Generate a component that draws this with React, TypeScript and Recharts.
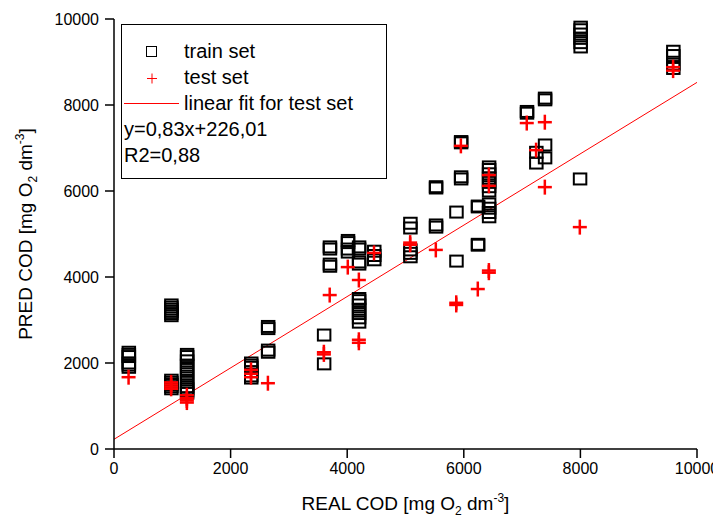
import React from 'react';
import { ScatterChart, Scatter, XAxis, YAxis, ReferenceLine } from 'recharts';

// ── Data ──────────────────────────────────────────────────────────────────────
const TICKS = [0, 2000, 4000, 6000, 8000, 10000];

// train set: real COD (x) and the predicted values stacked at that x
const TRAIN_REAL = [250, 980, 1250, 2350, 2640, 3600, 3700, 4010, 4200, 4460, 5080, 5520, 5870, 5950, 6240, 6430, 7080, 7240, 7390, 7990, 8000, 9590];
const TRAIN_PRED = [
  [1900, 1950, 2000, 2150, 2200, 2250],
  [3100, 3150, 3200, 3250, 3300, 3350, 1400, 1450, 1500, 1550, 1600],
  [1300, 1350, 1400, 1450, 1550, 1650, 1750, 1850, 1950, 2050, 2150, 2200],
  [1650, 1700, 1800, 1900, 1950, 2000],
  [2250, 2300, 2800, 2850],
  [1980, 2650],
  [4250, 4300, 4650, 4700],
  [4580, 4650, 4800, 4850],
  [4300, 4350, 4650, 4700, 2950, 3050, 3150, 3250, 3350, 3450, 3500],
  [4400, 4500, 4600],
  [4470, 4550, 4630, 5140, 5250],
  [5160, 5210, 6070, 6100],
  [4370, 5510],
  [6280, 6330, 7120, 7150],
  [4740, 4760, 5630, 5650],
  [5400, 5500, 5600, 5700, 6000, 6100, 6200, 6300, 6400, 6500, 6560],
  [7810, 7850],
  [6650, 6900],
  [6770, 7070, 8120, 8160],
  [6280],
  [9350, 9450, 9550, 9650, 9750, 9810],
  [8850, 8950, 9150, 9250],
];

// test set
const TEST_REAL = [250, 980, 1250, 2350, 2640, 3600, 3700, 4010, 4200, 4460, 5080, 5520, 5870, 5950, 6240, 6430, 7080, 7240, 7390, 7990, 9590];
const TEST_PRED = [
  [1670],
  [1400, 1450, 1500, 1550],
  [1080, 1130, 1180, 1250],
  [1670, 1750, 1840],
  [1530],
  [2200, 2250],
  [3580],
  [4230],
  [3930, 2470, 2540],
  [4560],
  [4750, 4800],
  [4630],
  [3350, 3400],
  [7050],
  [3720],
  [4100, 4150, 6120, 6370],
  [7580],
  [6950],
  [7600, 6090],
  [5160],
  [8800, 8880],
];

// linear fit for test set: y = 0,83x + 226,01
const FIT_SLOPE = 0.83;
const FIT_INTERCEPT = 226.01;
const FIT_X = [0, 10000];

// ── Constants ─────────────────────────────────────────────────────────────────
const FONT = '"Liberation Sans", Arial, sans-serif';
const RED = '#ff0000';
const BLACK = '#000000';

const trainData = TRAIN_REAL.flatMap((x, i) => TRAIN_PRED[i].map(y => ({ x, y })));
const testData = TEST_REAL.flatMap((x, i) => TEST_PRED[i].map(y => ({ x, y })));
const fitSegment = FIT_X.map(x => ({ x, y: FIT_SLOPE * x + FIT_INTERCEPT }));

// ── Marks ─────────────────────────────────────────────────────────────────────
function SquareMark({ cx, cy }: { cx?: number; cy?: number }) {
  if (cx === undefined || cy === undefined) return <g />;
  return (
    <rect x={cx - 6} y={cy - 5.5} width={12.5} height={11} fill="none" stroke={BLACK} strokeWidth={2} />
  );
}

function CrossMark({ cx, cy }: { cx?: number; cy?: number }) {
  if (cx === undefined || cy === undefined) return <g />;
  return (
    <g stroke={RED} strokeWidth={2.5}>
      <line x1={cx - 7} x2={cx + 7} y1={cy} y2={cy} />
      <line x1={cx} x2={cx} y1={cy - 7.5} y2={cy + 7.5} />
    </g>
  );
}

// ── Axis titles ───────────────────────────────────────────────────────────────
function XTitle({ viewBox }: any) {
  const { x, y, width } = viewBox;
  return (
    <text x={x + width / 2} y={y + 61} textAnchor="middle" fontFamily={FONT} fontSize={19} fill={BLACK}>
      REAL COD [mg O<tspan dy={5} fontSize={12}>2</tspan>
      <tspan dy={-5}> dm</tspan>
      <tspan dy={-8} fontSize={12}>-3</tspan>
      <tspan dy={8}>]</tspan>
    </text>
  );
}

function YTitle({ viewBox }: any) {
  const { y, height } = viewBox;
  const cx = 32;
  const cy = y + height / 2;
  return (
    <text x={cx} y={cy} transform={`rotate(-90 ${cx} ${cy})`} textAnchor="middle" fontFamily={FONT} fontSize={19} fill={BLACK}>
      PRED COD [mg O<tspan dy={5} fontSize={12}>2</tspan>
      <tspan dy={-5}> dm</tspan>
      <tspan dy={-8} fontSize={12}>-3</tspan>
      <tspan dy={8}>]</tspan>
    </text>
  );
}

// ── Legend box ────────────────────────────────────────────────────────────────
function LegendBox() {
  const text = { fontFamily: FONT, fontSize: 20, fill: BLACK };
  return (
    <svg
      width={266}
      height={155}
      style={{ position: 'absolute', left: 121, top: 24, background: '#fff' }}
    >
      <rect x={0.5} y={0.5} width={265} height={154} fill="#fff" stroke={BLACK} strokeWidth={1} />
      <rect x={25.5} y={22.5} width={10} height={10} fill="none" stroke={BLACK} strokeWidth={1} />
      <text x={63} y={34} {...text}>train set</text>
      <g stroke={RED} strokeWidth={1}>
        <line x1={26} x2={36} y1={54.5} y2={54.5} />
        <line x1={31} x2={31} y1={49.5} y2={59.5} />
      </g>
      <text x={63} y={60} {...text}>test set</text>
      <line x1={3} x2={58} y1={79.5} y2={79.5} stroke={RED} strokeWidth={1} />
      <text x={63} y={86} {...text}>linear fit for test set</text>
      <text x={3} y={112} {...text}>y=0,83x+226,01</text>
      <text x={3} y={138} {...text}>R2=0,88</text>
    </svg>
  );
}

// ── Component ─────────────────────────────────────────────────────────────────
export default function App() {
  const tick = { fill: BLACK, fontSize: 16, fontFamily: FONT };
  return (
    <div style={{ position: 'relative', width: 721, height: 524, margin: -8, background: '#fff' }}>
      <ScatterChart width={721} height={524} margin={{ top: 19, right: 24, bottom: 0, left: 0 }}>
        <XAxis
          type="number"
          dataKey="x"
          domain={[0, 10000]}
          ticks={TICKS}
          height={75}
          tick={tick}
          tickSize={9}
          tickMargin={5}
          stroke={BLACK}
          strokeWidth={1.5}
          label={<XTitle />}
        />
        <YAxis
          type="number"
          dataKey="y"
          domain={[0, 10000]}
          ticks={TICKS}
          width={114}
          tick={tick}
          tickSize={9}
          tickMargin={6}
          stroke={BLACK}
          strokeWidth={1.5}
          label={<YTitle />}
        />
        <XAxis
          xAxisId="top"
          orientation="top"
          type="number"
          domain={[0, 10000]}
          ticks={TICKS}
          height={0}
          mirror
          tickSize={3}
          tickFormatter={() => ''}
          stroke={BLACK}
          strokeWidth={1.5}
        />
        <YAxis
          yAxisId="right"
          orientation="right"
          type="number"
          domain={[0, 10000]}
          ticks={TICKS}
          width={0}
          mirror
          tickSize={3}
          tickFormatter={() => ''}
          stroke={BLACK}
          strokeWidth={1.5}
        />
        <Scatter data={trainData} shape={<SquareMark />} isAnimationActive={false} />
        <ReferenceLine segment={fitSegment} stroke={RED} strokeWidth={1} />
        <Scatter data={testData} shape={<CrossMark />} isAnimationActive={false} />
      </ScatterChart>
      <LegendBox />
    </div>
  );
}
